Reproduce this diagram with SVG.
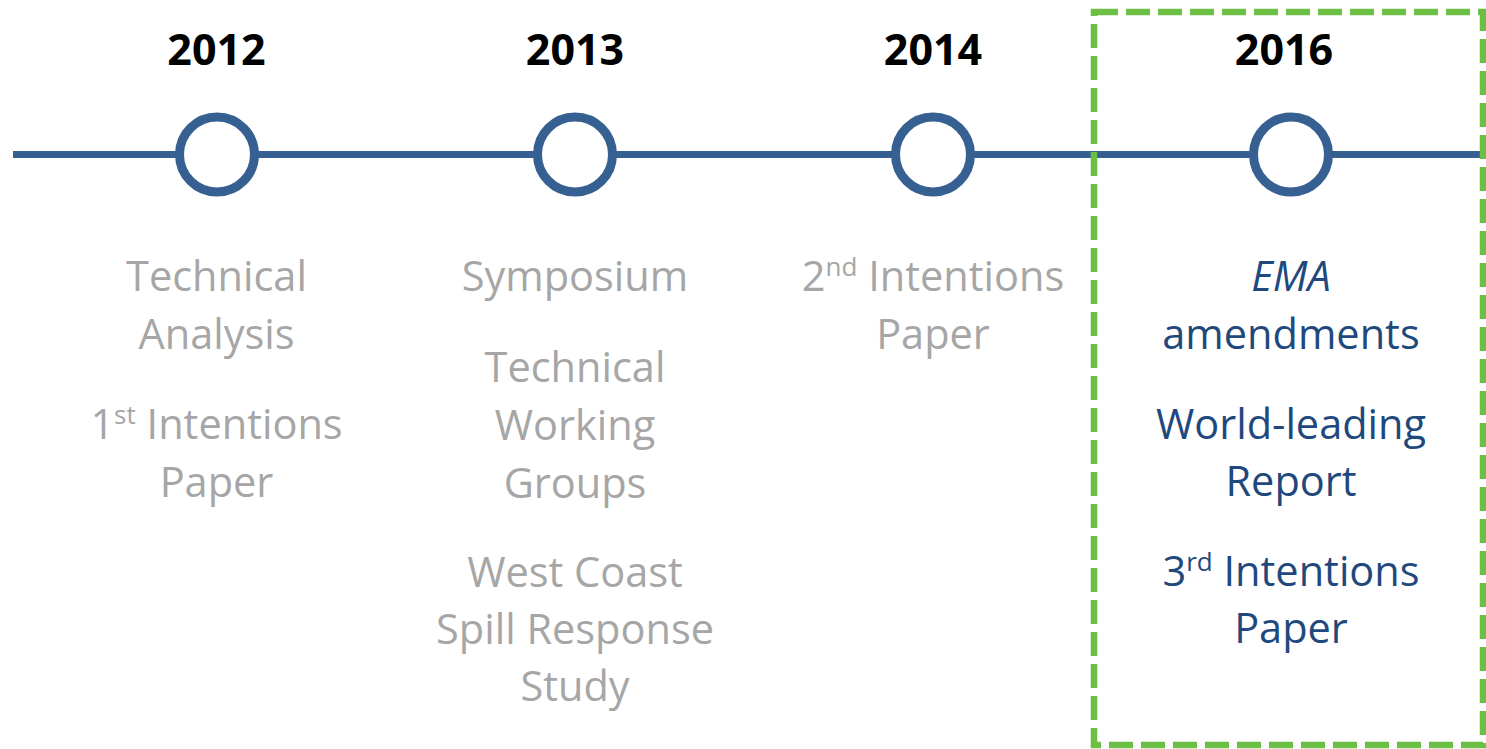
<svg xmlns="http://www.w3.org/2000/svg" width="1486" height="749" viewBox="0 0 1486 749">
<style>
.year{font-family:"Open Sans","Liberation Sans",sans-serif;font-weight:bold;font-size:43px;fill:#000;text-anchor:middle}
.t{font-family:"Open Sans","Liberation Sans",sans-serif;font-size:41.5px;text-anchor:middle}
.g{fill:#A6A6A6}
.b{fill:#1F497D}
.sup{font-size:26px}
.ring{fill:#fff;stroke:#376092;stroke-width:9}
</style>
<rect width="1486" height="749" fill="#fff"/>
<g id="connectors">
<line x1="13" y1="154.5" x2="1486" y2="154.5" stroke="#376092" stroke-width="7"/>
</g>
<g id="node-2012">
<circle class="ring" cx="217" cy="154.5" r="37.5"/>
<text class="year" x="216.5" y="65">2012</text>
<text class="t g" x="216.5" y="291">Technical</text>
<text class="t g" x="216.5" y="349">Analysis</text>
<text class="t g" x="216.5" y="439">1<tspan class="sup" dy="-15">st</tspan><tspan dy="15"> Intentions</tspan></text>
<text class="t g" x="216.5" y="497">Paper</text>
</g>
<g id="node-2013">
<circle class="ring" cx="575" cy="154.5" r="37.5"/>
<text class="year" x="575" y="65">2013</text>
<text class="t g" x="575" y="291">Symposium</text>
<text class="t g" x="575" y="382">Technical</text>
<text class="t g" x="575" y="440">Working</text>
<text class="t g" x="575" y="498">Groups</text>
<text class="t g" x="575" y="587">West Coast</text>
<text class="t g" x="575" y="644">Spill Response</text>
<text class="t g" x="575" y="701">Study</text>
</g>
<g id="node-2014">
<circle class="ring" cx="933" cy="154.5" r="37.5"/>
<text class="year" x="933" y="65">2014</text>
<text class="t g" x="933" y="291">2<tspan class="sup" dy="-15">nd</tspan><tspan dy="15"> Intentions</tspan></text>
<text class="t g" x="933" y="349">Paper</text>
</g>
<g id="node-2016">
<circle class="ring" cx="1291" cy="154.5" r="37.5"/>
<text class="year" x="1284" y="65">2016</text>
<text class="t b" x="1291" y="291" font-style="italic">EMA</text>
<text class="t b" x="1291" y="349">amendments</text>
<text class="t b" x="1291" y="439">World-leading</text>
<text class="t b" x="1291" y="496">Report</text>
<text class="t b" x="1291" y="586">3<tspan class="sup" dy="-15">rd</tspan><tspan dy="15"> Intentions</tspan></text>
<text class="t b" x="1291" y="643">Paper</text>
</g>
<g id="highlight">
<rect x="1094" y="12" width="389" height="733" fill="none" stroke="#6DBE45" stroke-width="6.5" stroke-dasharray="24 8"/>
</g>
</svg>
